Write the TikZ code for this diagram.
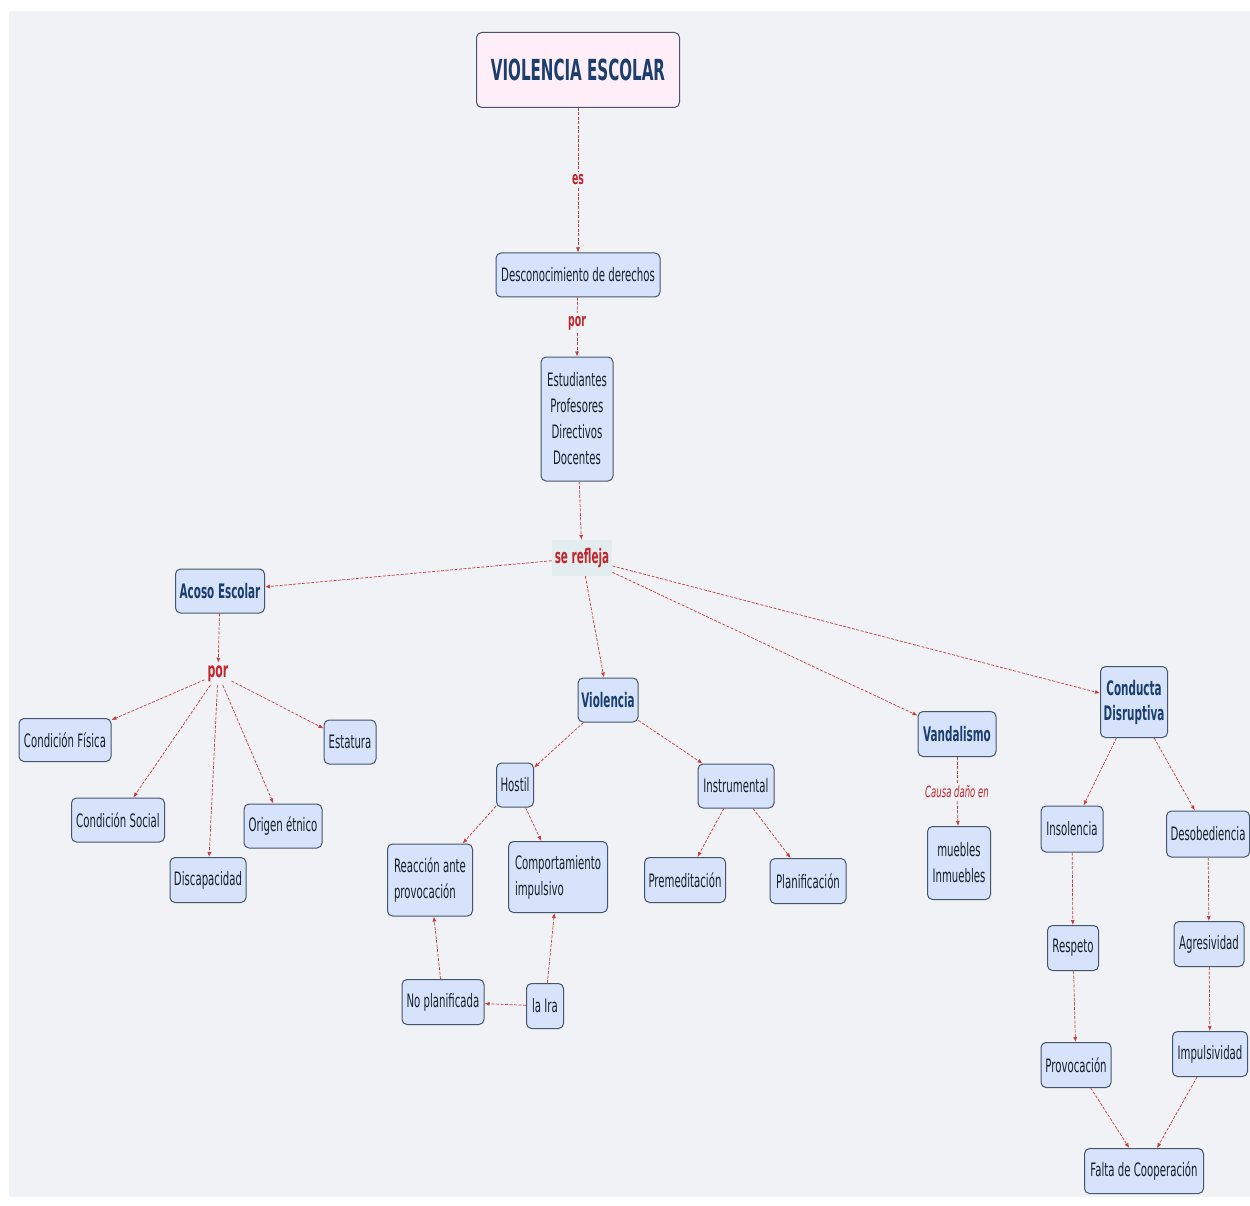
\documentclass[tikz,border=0pt]{standalone}
\usepackage{fontspec}
\setmainfont{DejaVu Sans}[FakeStretch=0.55]
\newfontfamily\bnarrow{DejaVu Sans}[FakeStretch=0.52]
\usetikzlibrary{arrows.meta}
\definecolor{bgc}{HTML}{F0F2F6}
\definecolor{nodefill}{HTML}{D6E3FA}
\definecolor{bordc}{HTML}{45566C}
\definecolor{txtc}{HTML}{1A202B}
\definecolor{navy}{HTML}{1A3E6E}
\definecolor{redlab}{HTML}{C0262C}
\definecolor{linec}{HTML}{C43C3C}
\definecolor{titlefill}{HTML}{FDEEF7}
\definecolor{reflejafill}{HTML}{E3ECEE}
\tikzset{
  box/.style={draw=bordc, fill=nodefill, rounded corners=5pt, line width=1pt,
    text=txtc, align=center, inner sep=2pt, font=\fontsize{18.5}{26}\selectfont},
  hbox/.style={box, text=navy, font=\bnarrow\bfseries\fontsize{20}{25}\selectfont},
  lbl/.style={text=redlab, inner sep=3pt, font=\bnarrow\bfseries\fontsize{18}{20}\selectfont},
  link/.style={draw=linec, line width=0.7pt, dash pattern=on 3pt off 1.5pt,
    -{Latex[length=5pt,width=4pt]}},
  plain/.style={draw=linec, line width=0.7pt, dash pattern=on 3pt off 1.5pt}
}
\begin{document}
\begin{tikzpicture}[x=1pt,y=-1pt]
\useasboundingbox (0,0) rectangle (1250,1206);
\fill[white] (0,0) rectangle (1250,1206);
\fill[bgc] (9,11) rectangle (1250,1197);

% top chain
\node[box, fill=titlefill, text=navy, minimum width=203, minimum height=75,
  font=\bnarrow\bfseries\fontsize{29}{30}\selectfont] (ve) at (578,70) {VIOLENCIA ESCOLAR};
\node[lbl] (es) at (578,180) {es};
\node[box, minimum width=164, minimum height=44] (desc) at (578,275) {Desconocimiento de derechos};
\node[lbl] (por1) at (577,323) {por};
\node[box, minimum width=72, minimum height=124] (est) at (577,419) {Estudiantes\\Profesores\\Directivos\\Docentes};
\node[lbl, fill=reflejafill, minimum width=60, minimum height=36, font=\bnarrow\bfseries\fontsize{20}{22}\selectfont] (ref) at (582,558) {se refleja};

% Acoso branch
\node[hbox, minimum width=89, minimum height=44] (acoso) at (220,591) {Acoso Escolar};
\node[lbl, font=\bnarrow\bfseries\fontsize{21}{22}\selectfont] (por2) at (218,674) {por};
\node[box, minimum width=92, minimum height=43] (cfis) at (65,740) {Condición Física};
\node[box, minimum width=52, minimum height=44] (estat) at (350,742) {Estatura};
\node[box, minimum width=93, minimum height=44] (csoc) at (118,820) {Condición Social};
\node[box, minimum width=78, minimum height=44] (orig) at (283,826) {Origen étnico};
\node[box, minimum width=76, minimum height=45] (disc) at (208,880) {Discapacidad};

% Violencia branch
\node[hbox, minimum width=60, minimum height=44] (viol) at (608,700) {Violencia};
\node[box, minimum width=37, minimum height=44] (host) at (515,785) {Hostil};
\node[box, minimum width=76, minimum height=44] (instr) at (736,786) {Instrumental};
\node[box, minimum width=85, minimum height=72, align=left] (reac) at (430,880) {Reacción ante\\provocación};
\node[box, minimum width=99, minimum height=71, align=left] (comp) at (558,877) {Comportamiento\\impulsivo};
\node[box, minimum width=81, minimum height=45] (prem) at (685,880) {Premeditación};
\node[box, minimum width=76, minimum height=45] (plan) at (808,881) {Planificación};
\node[box, minimum width=82, minimum height=45] (nopl) at (443,1002) {No planificada};
\node[box, minimum width=37, minimum height=45] (ira) at (545,1006) {la Ira};

% Vandalismo branch
\node[hbox, minimum width=78, minimum height=45] (vand) at (957,734) {Vandalismo};
\node[lbl, font=\itshape\fontsize{15.5}{16}\selectfont] (causa) at (957,792) {Causa daño en};
\node[box, minimum width=63, minimum height=73] (mueb) at (959,863) {muebles\\Inmuebles};

% Conducta branch
\node[hbox, minimum width=67, minimum height=71] (cond) at (1134,702) {Conducta\\Disruptiva};
\node[box, minimum width=62, minimum height=46] (insol) at (1072,829) {Insolencia};
\node[box, minimum width=83, minimum height=46] (deso) at (1208,834) {Desobediencia};
\node[box, minimum width=51, minimum height=45] (resp) at (1073,948) {Respeto};
\node[box, minimum width=70, minimum height=45] (agre) at (1209,944) {Agresividad};
\node[box, minimum width=70, minimum height=45] (prov) at (1076,1065) {Provocación};
\node[box, minimum width=75, minimum height=45] (impu) at (1210,1054) {Impulsividad};
\node[box, minimum width=119, minimum height=45] (falta) at (1144,1171) {Falta de Cooperación};

% connectors
\draw[plain] (ve) -- (es);
\draw[link] (es) -- (desc);
\draw[plain] (desc) -- (por1);
\draw[link] (por1) -- (est);
\draw[link] (est) -- (ref);
\draw[link] (ref) -- (acoso);
\draw[link] (ref) -- (viol);
\draw[link] (ref) -- (vand);
\draw[link] (ref) -- (cond);

\draw[link] (acoso) -- (por2);
\draw[link] (por2) -- (cfis);
\draw[link] (por2) -- (csoc);
\draw[link] (por2) -- (disc);
\draw[link] (por2) -- (orig);
\draw[link] (por2) -- (estat);

\draw[link] (viol) -- (host);
\draw[link] (viol) -- (instr);
\draw[link] (host) -- (reac);
\draw[link] (host) -- (comp);
\draw[link] (instr) -- (prem);
\draw[link] (instr) -- (plan);
\draw[link] (nopl) -- (reac);
\draw[link] (ira) -- (comp);
\draw[link] (ira) -- (nopl);

\draw[plain] (vand) -- (causa);
\draw[link] (causa) -- (mueb);

\draw[link] (cond) -- (insol);
\draw[link] (cond) -- (deso);
\draw[link] (insol) -- (resp);
\draw[link] (resp) -- (prov);
\draw[link] (prov) -- (falta);
\draw[link] (deso) -- (agre);
\draw[link] (agre) -- (impu);
\draw[link] (impu) -- (falta);
\end{tikzpicture}
\end{document}
